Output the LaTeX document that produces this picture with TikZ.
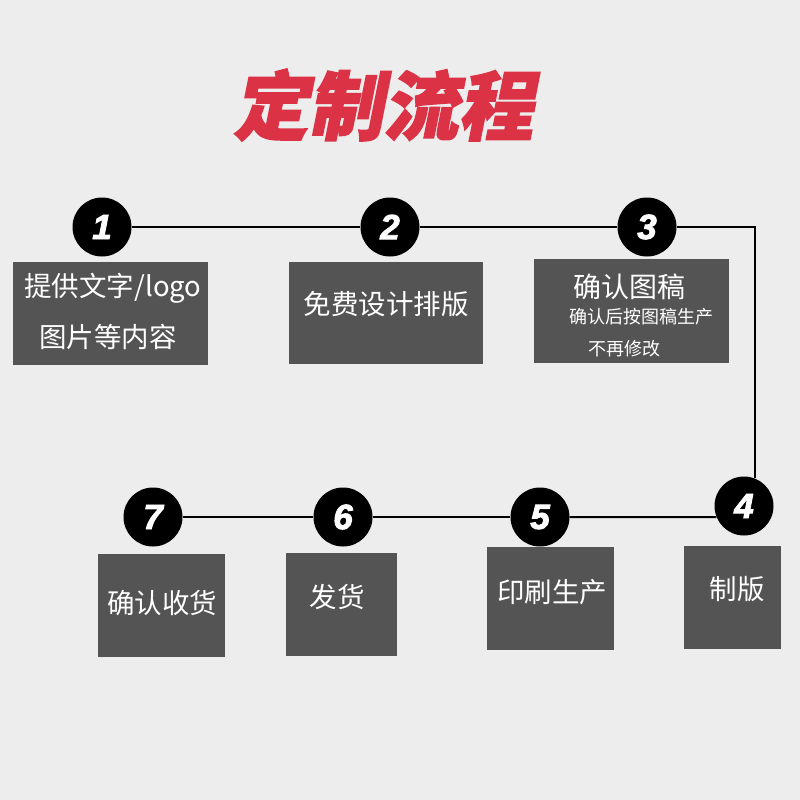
\documentclass[tikz,border=0pt]{standalone}
\usepackage{fontspec}
\usepackage{tikz}
\usetikzlibrary{positioning,calc}
\newfontfamily\cjk{Noto Sans CJK SC}
\newfontfamily\titlefont{Noto Sans CJK SC}[FakeSlant=0.2,FakeBold=2]
\newfontfamily\numfont{Liberation Sans}[FakeBold=2.5]
\definecolor{bggray}{HTML}{EDEDED}
\definecolor{boxgray}{HTML}{545454}
\definecolor{titlered}{HTML}{DB3245}
\tikzset{
  stepdot/.style={circle,fill=black,minimum size=59pt,inner sep=0pt,text=white,font=\numfont\bfseries\itshape\fontsize{35}{35}\selectfont},
  stepbox/.style={rectangle,fill=boxgray,inner sep=0pt},
  boxtext/.style={text=white,inner sep=0pt,font=\cjk\fontsize{27.5}{27.5}\selectfont},
  smalltext/.style={text=white,inner sep=0pt,font=\cjk\fontsize{18}{18}\selectfont},
  flowline/.style={black,line width=2pt}
}
\begin{document}
\begin{tikzpicture}[x=1pt,y=-1pt]
\fill[bggray] (0,0) rectangle (800,800);
\useasboundingbox (0,0) rectangle (800,800);

% title
\node[text=titlered,font=\titlefont\bfseries\fontsize{75}{75}\selectfont] (title) at (383,105) {定制流程};

% boxes, top row
\node[stepbox,minimum width=195pt,minimum height=103pt] (b1) at (110.5,313.5) {};
\node[stepbox,minimum width=194pt,minimum height=102pt] (b2) at (386,313) {};
\node[stepbox,minimum width=195pt,minimum height=104pt] (b3) at (631.5,311) {};
% boxes, bottom row
\node[stepbox,minimum width=97pt,minimum height=103pt] (b4) at (732.5,597.5) {};
\node[stepbox,minimum width=127pt,minimum height=103pt] (b5) at (550.5,598.5) {};
\node[stepbox,minimum width=111pt,minimum height=103pt] (b6) at (341.5,604.5) {};
\node[stepbox,minimum width=127pt,minimum height=103pt] (b7) at (161.5,605.5) {};

% texts
\node[boxtext] (t1a) at (113,288) {提供文字/logo};
\node[boxtext] (t1b) at (108,337) {图片等内容};
\node[boxtext] (t2) at (386,304) {免费设计排版};
\node[boxtext,font=\cjk\fontsize{28}{28}\selectfont] (t3a) at (629,287) {确认图稿};
\node[smalltext] (t3b) at (641,317) {确认后按图稿生产};
\node[smalltext] (t3c) at (624,349) {不再修改};
\node[boxtext] (t4) at (737,589) {制版};
\node[boxtext] (t5) at (552,592) {印刷生产};
\node[boxtext] (t6) at (337,597) {发货};
\node[boxtext] (t7) at (162,603) {确认收货};

% numbered dots
\node[stepdot] (c1) at (102,227) {1};
\node[stepdot] (c2) at (390,227) {2};
\node[stepdot] (c3) at (647,227) {3};
\node[stepdot] (c4) at (744,506) {4};
\node[stepdot] (c5) at (540,517) {5};
\node[stepdot] (c6) at (343,517) {6};
\node[stepdot] (c7) at (153,517) {7};

% connectors
\draw[flowline] (c1.east) -- (c2.west);
\draw[flowline] (c2.east) -- (c3.west);
\draw[flowline] (c3.east) -| (c4.68);
\draw[flowline] (c4.202) -- (c5.east);
\draw[flowline] (c5.west) -- (c6.east);
\draw[flowline] (c6.west) -- (c7.east);
\end{tikzpicture}
\end{document}
